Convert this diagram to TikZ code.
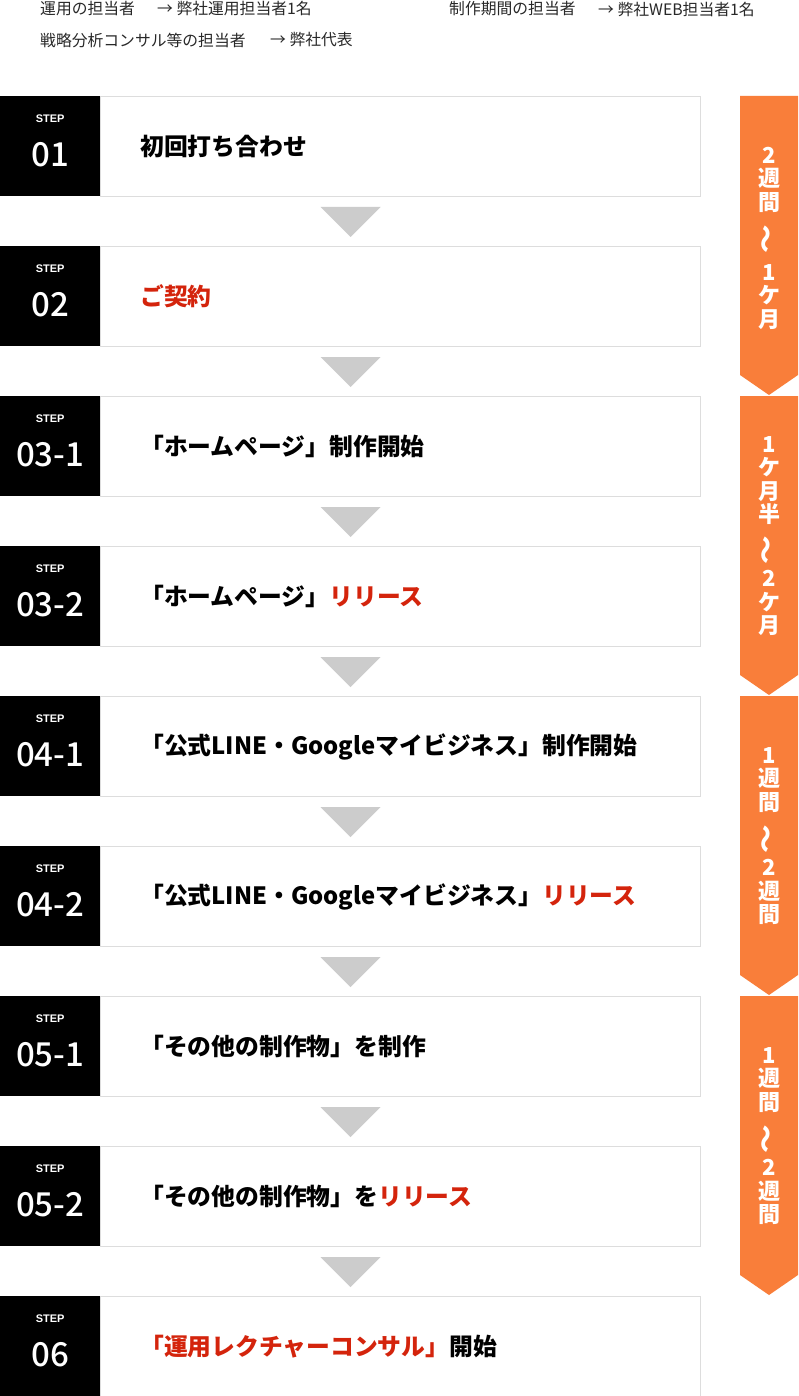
\documentclass[tikz,border=0pt]{standalone}
\usepackage{fontspec}
\usepackage{graphicx}
\usetikzlibrary{calc}
\newfontfamily\jp{Noto Sans CJK JP}
\newfontfamily\jpm{Noto Sans CJK JP Medium}
\newfontfamily\stepf{Liberation Sans}
\definecolor{orangeA}{RGB}{249,126,58}
\definecolor{redA}{RGB}{212,36,12}
\definecolor{triG}{RGB}{204,204,204}
\definecolor{lineG}{RGB}{221,221,221}
\definecolor{headT}{RGB}{40,40,40}
\newcommand\rd[1]{\textcolor{redA}{#1}}
\newcommand\vtil{\smash{\raisebox{-2.5pt}{\rotatebox[origin=c]{90}{\scalebox{1.3}[1.15]{～}}}}}
\begin{document}
\begin{tikzpicture}[x=1pt,y=-1pt,
 whitebox/.style={draw=lineG,line width=1pt,fill=white,minimum width=600pt,minimum height=100pt,inner sep=0,anchor=north west},
 blackbox/.style={fill=black,minimum width=100pt,minimum height=100pt,inner sep=0,anchor=north west},
 steplbl/.style={text=white,font=\stepf\bfseries\fontsize{11}{13}\selectfont,inner sep=0},
 stepnum/.style={text=white,font=\jpm\fontsize{33}{36}\selectfont,inner sep=0},
 ttl/.style={anchor=west,inner sep=0,font=\jp\bfseries\fontsize{23.8}{28}\selectfont},
 hdr/.style={anchor=west,inner sep=0,text=headT,font=\jp\fontsize{15.8}{18}\selectfont},
 tri/.style={fill=triG},
 period/.style={fill=orangeA},
 ptext/.style={text=white,font=\jp\bfseries\fontsize{22}{23.5}\selectfont,align=center,inner sep=0}
]
\useasboundingbox[fill=white] (0,0) rectangle (798,1396);
% header
\node[hdr] (h1) at (40,9) {運用の担当者};
\node[hdr] (h2) at (157,9) {→ 弊社運用担当者1名};
\node[hdr] (h3) at (449,9) {制作期間の担当者};
\node[hdr] (h4) at (598,9) {→ 弊社WEB担当者1名};
\node[hdr] (h5) at (40,40) {戦略分析コンサル等の担当者};
\node[hdr] (h6) at (270,40) {→ 弊社代表};
% steps
\foreach \i/\num/\ttltext in {
 0/01/{初回打ち合わせ},
 1/02/{\rd{ご契約}},
 2/03-1/{「ホームページ」制作開始},
 3/03-2/{「ホームページ」\rd{リリース}},
 4/04-1/{「公式LINE・Googleマイビジネス」制作開始},
 5/04-2/{「公式LINE・Googleマイビジネス」\rd{リリース}},
 6/05-1/{「その他の制作物」を制作},
 7/05-2/{「その他の制作物」を\rd{リリース}},
 8/06/{\rd{「運用レクチャーコンサル」}開始}}{
 \pgfmathsetmacro\rowtop{96+150*\i}
 \node[blackbox] (k\i) at (0,\rowtop) {};
 \node[whitebox] (w\i) at (100,\rowtop) {};
 \node[steplbl] (s\i) at ($(k\i.north)+(0,23)$) {STEP};
 \node[stepnum] (n\i) at ($(k\i.north)+(0,59)$) {\num};
 \node[ttl] (t\i) at ($(w\i.west)+(40,0)$) {\ttltext};
}
% grey down triangles
\foreach \i in {0,...,7}{
 \fill[tri] ($(w\i.south)+(-80,10)$) -- ($(w\i.south)+(-20,10)$) -- ($(w\i.south)+(-50,40)$) -- cycle;
}
% orange period arrows
\foreach \t/\b in {96/375,396/675,696/975,996/1275}{
 \fill[period] (740,\t) -- (798,\t) -- (798,\b) -- (769,\b+20) -- (740,\b) -- cycle;
}
\node[ptext] (p1) at (769,238) {2\\週\\間\\[9.5pt]\vtil\\[13.5pt]1\\ケ\\月};
\node[ptext] (p2) at (769,536) {1\\ケ\\月\\半\\[8.5pt]\vtil\\[8.5pt]2\\ケ\\月};
\node[ptext] (p3) at (769,836) {1\\週\\間\\[10pt]\vtil\\[8.5pt]2\\週\\間};
\node[ptext] (p4) at (769,1136) {1\\週\\間\\[10pt]\vtil\\[8.5pt]2\\週\\間};
\end{tikzpicture}
\end{document}
